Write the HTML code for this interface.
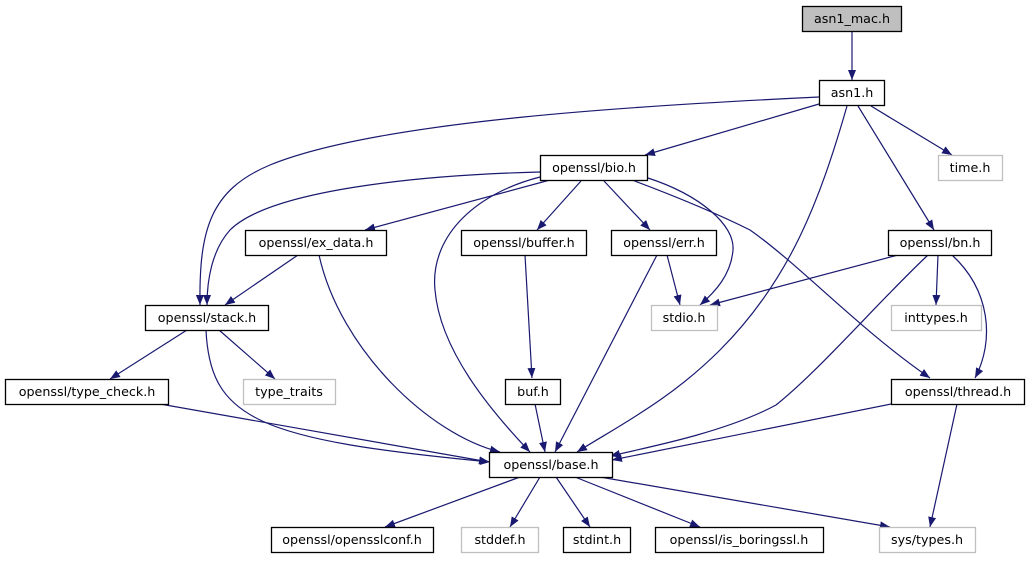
<!DOCTYPE html>
<html><head><meta charset="utf-8"><style>
body{margin:0;background:#fff;}
svg text{font-family:"DejaVu Sans","Liberation Sans",sans-serif;font-size:12.7px;text-anchor:middle;fill:#000;}
</style></head><body>
<svg width="1029" height="560" viewBox="0 0 1029 560" xmlns="http://www.w3.org/2000/svg">
<defs><marker id="a" viewBox="0 0 10 10" refX="10" refY="5" markerWidth="10" markerHeight="10" markerUnits="userSpaceOnUse" orient="auto"><path d="M0,1 L10,5 L0,9 z" fill="#191970"/></marker></defs>
<g fill="none" stroke="#191970" stroke-width="1.2" marker-end="url(#a)">
<path d="M852,31 L852,80"/>
<path d="M819,97 C650,105 380,120 270,165 C210,190 199,230 200,305"/>
<path d="M819,104 L645,155"/>
<path d="M847,106 C820,200 790,280 720,350 C670,400 620,425 577,452"/>
<path d="M858,106 L934,230"/>
<path d="M871,106 L952,155"/>
<path d="M540,172 C420,175 270,190 230,230 C212,250 207,280 207,305"/>
<path d="M550,180 L365,230"/>
<path d="M581,181 L537,230"/>
<path d="M604,181 L650,230"/>
<path d="M648,178 C700,195 735,225 733,250 C731,275 715,292 700,305"/>
<path d="M632,180 C680,198 720,215 750,230 C800,265 860,330 930,378"/>
<path d="M540,177 C470,195 430,240 435,290 C440,350 490,410 530,452"/>
<path d="M298,255 L225,305"/>
<path d="M319,255 C340,350 430,435 500,452"/>
<path d="M525,255 L532,378"/>
<path d="M667,255 L680,305"/>
<path d="M657,255 L555,452"/>
<path d="M898,255 L710,305"/>
<path d="M938,255 L936,305"/>
<path d="M952,255 C990,290 995,340 975,378"/>
<path d="M928,255 C880,300 820,370 776,405 C730,430 660,445 610,456"/>
<path d="M187,330 L110,379"/>
<path d="M219,330 L275,379"/>
<path d="M206,330 C210,420 260,440 490,462"/>
<path d="M160,404 L489,462"/>
<path d="M535,404 L545,452"/>
<path d="M891,404 L612,460"/>
<path d="M957,404 L930,527"/>
<path d="M520,477 L385,527"/>
<path d="M540,477 L510,527"/>
<path d="M556,477 L590,527"/>
<path d="M575,477 L700,527"/>
<path d="M600,477 L890,527"/>
</g>
<g stroke-width="1.3">
<rect x="802.5" y="6.5" width="99" height="25" fill="#bfbfbf" stroke="#000"/>
<rect x="819.5" y="80.5" width="65" height="25" fill="#fff" stroke="#000"/>
<rect x="938.5" y="155.5" width="64" height="25" fill="#fff" stroke="#bfbfbf"/>
<rect x="540.5" y="155.5" width="107" height="25" fill="#fff" stroke="#000"/>
<rect x="888.5" y="230.5" width="103" height="25" fill="#fff" stroke="#000"/>
<rect x="245.5" y="230.5" width="141" height="25" fill="#fff" stroke="#000"/>
<rect x="461.5" y="230.5" width="125" height="25" fill="#fff" stroke="#000"/>
<rect x="611.5" y="230.5" width="105" height="25" fill="#fff" stroke="#000"/>
<rect x="651.5" y="305.5" width="66" height="25" fill="#fff" stroke="#bfbfbf"/>
<rect x="891.5" y="305.5" width="90" height="25" fill="#fff" stroke="#bfbfbf"/>
<rect x="145.5" y="305.5" width="123" height="25" fill="#fff" stroke="#000"/>
<rect x="5.5" y="379.5" width="163" height="25" fill="#fff" stroke="#000"/>
<rect x="243.5" y="379.5" width="92" height="25" fill="#fff" stroke="#bfbfbf"/>
<rect x="505.5" y="379.5" width="55" height="25" fill="#fff" stroke="#000"/>
<rect x="891.5" y="379.5" width="133" height="25" fill="#fff" stroke="#000"/>
<rect x="489.5" y="452.5" width="123" height="25" fill="#fff" stroke="#000"/>
<rect x="271.5" y="527.5" width="162" height="25" fill="#fff" stroke="#000"/>
<rect x="461.5" y="527.5" width="77" height="25" fill="#fff" stroke="#bfbfbf"/>
<rect x="563.5" y="527.5" width="67" height="25" fill="#fff" stroke="#000"/>
<rect x="655.5" y="527.5" width="168" height="25" fill="#fff" stroke="#000"/>
<rect x="879.5" y="527.5" width="96" height="25" fill="#fff" stroke="#bfbfbf"/>
</g>
<text x="852" y="23">asn1_mac.h</text>
<text x="852" y="97">asn1.h</text>
<text x="970" y="172">time.h</text>
<text x="594" y="172">openssl/bio.h</text>
<text x="940" y="247">openssl/bn.h</text>
<text x="316" y="247">openssl/ex_data.h</text>
<text x="524" y="247">openssl/buffer.h</text>
<text x="664" y="247">openssl/err.h</text>
<text x="684" y="322">stdio.h</text>
<text x="936" y="322">inttypes.h</text>
<text x="207" y="322">openssl/stack.h</text>
<text x="87" y="396">openssl/type_check.h</text>
<text x="289" y="396">type_traits</text>
<text x="533" y="396">buf.h</text>
<text x="958" y="396">openssl/thread.h</text>
<text x="551" y="469">openssl/base.h</text>
<text x="352" y="544">openssl/opensslconf.h</text>
<text x="500" y="544">stddef.h</text>
<text x="597" y="544">stdint.h</text>
<text x="739" y="544">openssl/is_boringssl.h</text>
<text x="927" y="544">sys/types.h</text>
</svg>
</body></html>
